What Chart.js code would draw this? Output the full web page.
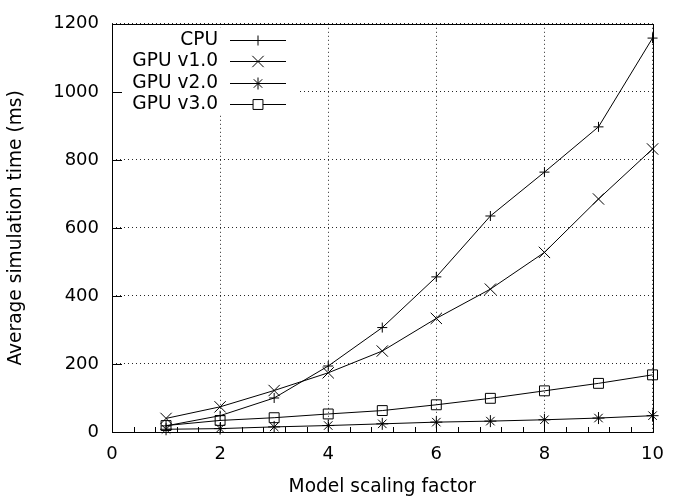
<!DOCTYPE html>
<html>
<head>
<meta charset="utf-8">
<script src="https://cdn.jsdelivr.net/npm/chart.js@4/dist/chart.umd.min.js"></script>
<style>
  html, body { margin: 0; padding: 0; background: #fff; }
  #wrap { width: 676px; height: 498px; }
</style>
</head>
<body>
<div id="wrap"><canvas id="simChart" width="676" height="498"></canvas></div>
<script>
// valores
const factors = [1, 2, 3, 4, 5, 6, 7, 8, 9, 10];
const cpu    = [18, 48, 100, 194, 307, 456, 635, 764, 897, 1158];
const gpuV1  = [40, 74, 122, 174, 238, 334, 420, 528, 685, 832];
const gpuV2  = [8, 10, 15, 19, 24, 29, 32, 36, 41, 48];
const gpuV3  = [19, 34, 42, 53, 63, 80, 99, 121, 143, 168];
const seriesNames = ['CPU', 'GPU v1.0', 'GPU v2.0', 'GPU v3.0'];

const FONT = "'DejaVu Sans', sans-serif";

function toXY(values) {
    return values.map((v, i) => ({ x: factors[i], y: v }));
}

function serie(label, values, style, radius) {
    return {
        label: label,
        data: toXY(values),
        borderColor: '#000',
        backgroundColor: 'rgba(0,0,0,0)',
        borderWidth: 1,
        pointStyle: style,
        pointRadius: radius,
        pointBorderColor: '#000',
        pointBorderWidth: 1,
        pointBackgroundColor: 'rgba(0,0,0,0)',
        tension: 0,
        fill: false,
        clip: false
    };
}

// moldura, ticks para dentro e legenda no estilo gnuplot
const gnuplotFrame = {
    id: 'gnuplotFrame',
    beforeDatasetsDraw(chart) {
        const { ctx, chartArea: a } = chart;
        ctx.save();
        ctx.fillStyle = '#fff';
        ctx.fillRect(a.left + 1, 28, 297 - a.left, 86);
        ctx.restore();
    },
    afterDatasetsDraw(chart) {
        const { ctx, chartArea: a, scales } = chart;
        const xs = scales.x, ys = scales.y;
        ctx.save();
        ctx.strokeStyle = '#000';
        ctx.lineWidth = 1;
        ctx.strokeRect(Math.round(a.left) + 0.5, Math.round(a.top) + 0.5,
            Math.round(a.right - a.left), Math.round(a.bottom - a.top));

        ctx.beginPath();
        for (let v = 0; v <= 1200; v += 200) {
            const y = Math.round(ys.getPixelForValue(v)) + 0.5;
            ctx.moveTo(a.left, y);
            ctx.lineTo(a.left + 10, y);
        }
        for (let k = 0; k <= 25; k++) {
            const v = k * 0.4;
            const x = Math.round(xs.getPixelForValue(v)) + 0.5;
            const len = (k % 5 === 0) ? 10 : 5;
            ctx.moveTo(x, a.bottom);
            ctx.lineTo(x, a.bottom - len);
        }
        ctx.stroke();

        // legenda
        ctx.font = '18.6px ' + FONT;
        ctx.textAlign = 'right';
        ctx.textBaseline = 'middle';
        chart.data.datasets.forEach((ds, i) => {
            const y = Math.round(39.5 + i * 21.5) + 0.5;
            ctx.fillStyle = '#000';
            ctx.fillText(ds.label, 218, y);
            ctx.beginPath();
            ctx.moveTo(230, y);
            ctx.lineTo(286, y);
            ctx.stroke();
            ctx.fillStyle = '#fff';
            Chart.helpers.drawPoint(ctx, {
                pointStyle: ds.pointStyle,
                radius: ds.pointRadius,
                rotation: 0,
                borderWidth: 1
            }, 258, y);
        });
        ctx.restore();
    }
};

const ctx = document.getElementById('simChart').getContext('2d');

new Chart(ctx, {
    type: 'line',
    data: {
        datasets: [
            serie(seriesNames[0], cpu, 'cross', 5),
            serie(seriesNames[1], gpuV1, 'crossRot', 8),
            serie(seriesNames[2], gpuV2, 'star', 6),
            serie(seriesNames[3], gpuV3, 'rect', 7)
        ]
    },
    options: {
        responsive: false,
        animation: false,
        layout: { padding: { left: 0, right: 13, top: 19, bottom: 0 } },
        plugins: {
            legend: { display: false },
            tooltip: { enabled: false }
        },
        scales: {
            x: {
                type: 'linear',
                min: 0,
                max: 10,
                afterFit(scale) { scale.height = 66; },
                ticks: {
                    stepSize: 2,
                    padding: 12,
                    color: '#000',
                    font: { family: FONT, size: 18 },
                    callback: (v) => String(v)
                },
                grid: {
                    color: 'rgba(0,0,0,0.85)',
                    lineWidth: 1,
                    drawTicks: false
                },
                border: { display: false, dash: [1, 3] },
                title: {
                    display: true,
                    text: 'Model scaling factor',
                    color: '#000',
                    font: { family: FONT, size: 18.6 },
                    padding: { top: 0, bottom: 0 }
                }
            },
            y: {
                min: 0,
                max: 1200,
                afterFit(scale) { scale.width = 112; },
                ticks: {
                    stepSize: 200,
                    padding: 13,
                    color: '#000',
                    font: { family: FONT, size: 18 },
                    callback: (v) => String(v)
                },
                grid: {
                    color: 'rgba(0,0,0,0.85)',
                    lineWidth: 1,
                    drawTicks: false
                },
                border: { display: false, dash: [1, 3] },
                title: {
                    display: true,
                    text: 'Average simulation time (ms)',
                    color: '#000',
                    font: { family: FONT, size: 18.6 },
                    padding: { top: 5, bottom: 0 }
                }
            }
        }
    },
    plugins: [gnuplotFrame]
});
</script>
</body>
</html>
